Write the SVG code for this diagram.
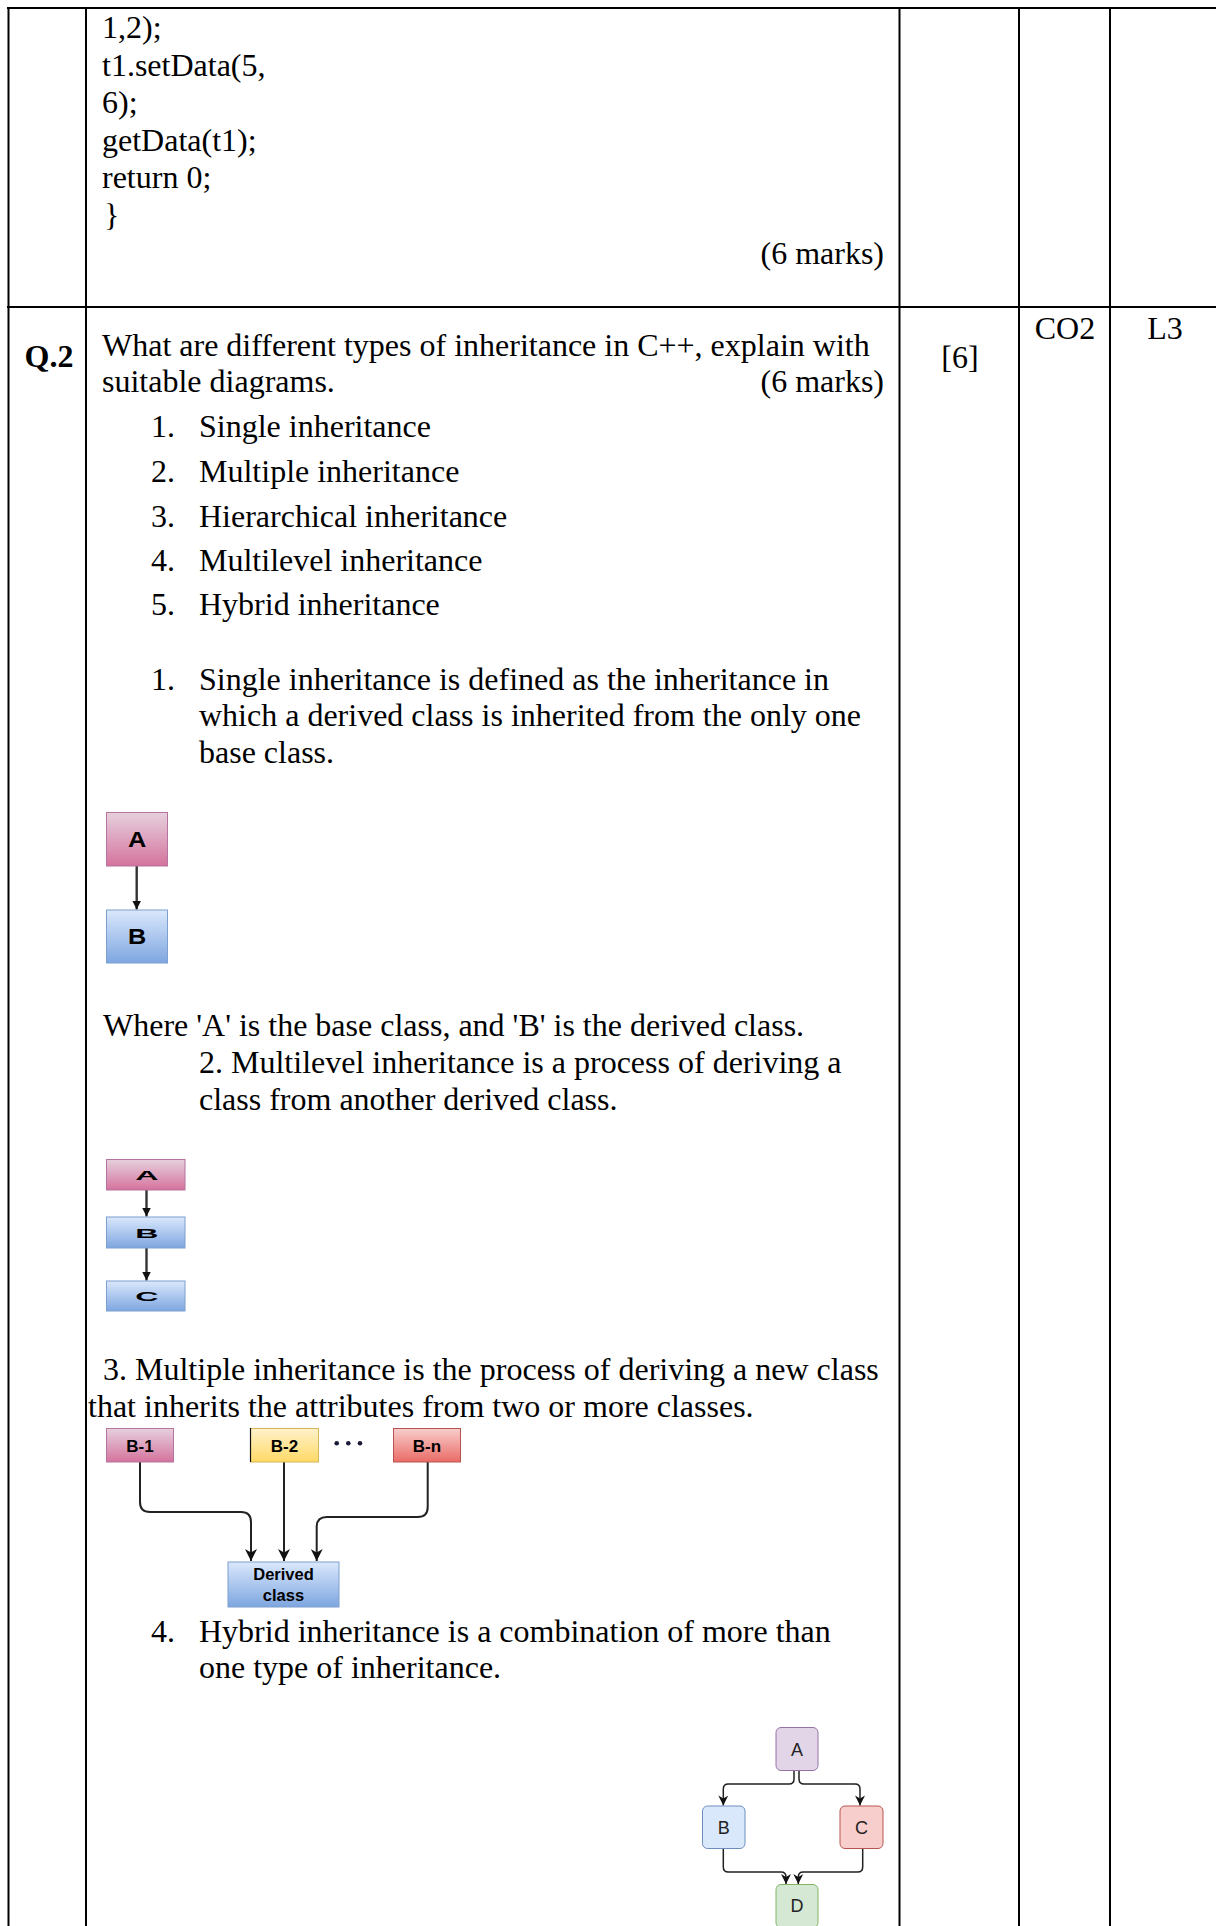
<svg xmlns="http://www.w3.org/2000/svg" width="1216" height="1926" viewBox="0 0 1216 1926">
<style>
.t{font-family:"Liberation Serif","Times New Roman",serif;font-size:32px;fill:#000}
.b{font-weight:bold}
.grid{stroke:#000;stroke-width:2;fill:none}
.lbl{font-family:"Liberation Sans",Arial,sans-serif;font-weight:bold;fill:#000;text-anchor:middle}
.hl{font-family:"Liberation Sans",Arial,sans-serif;font-size:18px;fill:#222;text-anchor:middle}
.e{fill:none;stroke:#222;stroke-width:2}
.es{fill:none;stroke:#333;stroke-width:2.4}
.eh{fill:none;stroke:#222;stroke-width:1.5}
</style>
<defs>
<linearGradient id="gPink" x1="0" y1="0" x2="0" y2="1"><stop offset="0" stop-color="#e6d0de"/><stop offset="1" stop-color="#d5739d"/></linearGradient>
<linearGradient id="gBlue" x1="0" y1="0" x2="0" y2="1"><stop offset="0" stop-color="#dae8fc"/><stop offset="1" stop-color="#7ea6e0"/></linearGradient>
<linearGradient id="gYel" x1="0" y1="0" x2="0" y2="1"><stop offset="0" stop-color="#fff2cc"/><stop offset="1" stop-color="#ffd966"/></linearGradient>
<linearGradient id="gRed" x1="0" y1="0" x2="0" y2="1"><stop offset="0" stop-color="#f8cecc"/><stop offset="1" stop-color="#ea6b66"/></linearGradient>
<marker id="arr" viewBox="0 0 10 10" refX="10" refY="5" markerWidth="14" markerHeight="12" orient="auto" markerUnits="userSpaceOnUse">
<path d="M0,0 L10,5 L0,10 L3,5 z" fill="#111"/>
</marker>
<marker id="arrH" viewBox="0 0 10 10" refX="10" refY="5" markerWidth="11" markerHeight="10" orient="auto" markerUnits="userSpaceOnUse">
<path d="M0,0 L10,5 L0,10 L3,5 z" fill="#111"/>
</marker>
<marker id="arrS" viewBox="0 0 10 10" refX="10" refY="5" markerWidth="9" markerHeight="11" orient="auto" markerUnits="userSpaceOnUse">
<path d="M0,0 L10,5 L0,10 z" fill="#111"/>
</marker>
</defs>

<g id="table">
<line class="grid" x1="7" y1="8" x2="1216" y2="8"/>
<line class="grid" x1="7" y1="307" x2="1216" y2="307"/>
<line class="grid" x1="8.5" y1="7" x2="8.5" y2="1926"/>
<line class="grid" x1="86" y1="7" x2="86" y2="1926"/>
<line class="grid" x1="899.5" y1="7" x2="899.5" y2="1926"/>
<line class="grid" x1="1019" y1="7" x2="1019" y2="1926"/>
<line class="grid" x1="1110" y1="7" x2="1110" y2="1926"/>
</g>

<g id="text">
<text class="t" x="102" y="38">1,2);</text>
<text class="t" x="102" y="75.5">t1.setData(5,</text>
<text class="t" x="102" y="113">6);</text>
<text class="t" x="102" y="150.5">getData(t1);</text>
<text class="t" x="102" y="188">return 0;</text>
<text class="t" x="104" y="226">}</text>
<text class="t" x="884" y="264" text-anchor="end">(6 marks)</text>

<text class="t b" x="24.5" y="367">Q.2</text>
<text class="t" x="102" y="355.5">What are different types of inheritance in C++, explain with</text>
<text class="t" x="102" y="391.5">suitable diagrams.</text>
<text class="t" x="884" y="391.5" text-anchor="end">(6 marks)</text>
<text class="t" x="960" y="368" text-anchor="middle">[6]</text>
<text class="t" x="1065" y="339" text-anchor="middle">CO2</text>
<text class="t" x="1165" y="339" text-anchor="middle">L3</text>

<text class="t" x="151" y="436.7">1.</text><text class="t" x="199" y="436.7">Single inheritance</text>
<text class="t" x="151" y="481.7">2.</text><text class="t" x="199" y="481.7">Multiple inheritance</text>
<text class="t" x="151" y="526.7">3.</text><text class="t" x="199" y="526.7">Hierarchical inheritance</text>
<text class="t" x="151" y="571">4.</text><text class="t" x="199" y="571">Multilevel inheritance</text>
<text class="t" x="151" y="615">5.</text><text class="t" x="199" y="615">Hybrid inheritance</text>

<text class="t" x="151" y="690">1.</text><text class="t" x="199" y="690">Single inheritance is defined as the inheritance in</text>
<text class="t" x="199" y="726">which a derived class is inherited from the only one</text>
<text class="t" x="199" y="762.5">base class.</text>

<text class="t" x="103" y="1036">Where 'A' is the base class, and 'B' is the derived class.</text>
<text class="t" x="199" y="1073">2. Multilevel inheritance is a process of deriving a</text>
<text class="t" x="199" y="1110">class from another derived class.</text>

<text class="t" x="103" y="1380">3. Multiple inheritance is the process of deriving a new class</text>
<text class="t" x="88" y="1417">that inherits the attributes from two or more classes.</text>

<text class="t" x="151" y="1642">4.</text><text class="t" x="199" y="1642">Hybrid inheritance is a combination of more than</text>
<text class="t" x="199" y="1678">one type of inheritance.</text>
</g>

<g id="connectors">
<line class="es" x1="136.7" y1="866" x2="136.7" y2="909.5" marker-end="url(#arrS)"/>
<line class="es" x1="146.5" y1="1190" x2="146.5" y2="1216.5" marker-end="url(#arrS)"/>
<line class="es" x1="146.5" y1="1248" x2="146.5" y2="1280.5" marker-end="url(#arrS)"/>
<path class="e" d="M140,1462 V1502 Q140,1512 150,1512 H241 Q251,1512 251,1522 V1561" marker-end="url(#arr)"/>
<path class="e" d="M284,1462 V1561" marker-end="url(#arr)"/>
<path class="e" d="M427.7,1462 V1507 Q427.7,1517 417.7,1517 H326.7 Q316.7,1517 316.7,1527 V1561" marker-end="url(#arr)"/>
<path class="eh" d="M794,1771 V1779 Q794,1784 789,1784 H728.3 Q723.3,1784 723.3,1789 V1805.5" marker-end="url(#arrH)"/>
<path class="eh" d="M799,1771 V1779 Q799,1784 804,1784 H855 Q860,1784 860,1789 V1805.5" marker-end="url(#arrH)"/>
<path class="eh" d="M723.3,1848.5 V1867 Q723.3,1872 728.3,1872 H781 Q786,1872 786,1877 V1884" marker-end="url(#arrH)"/>
<path class="eh" d="M862.7,1848.5 V1867 Q862.7,1872 857.7,1872 H803.3 Q798.3,1872 798.3,1877 V1884" marker-end="url(#arrH)"/>
</g>

<g id="single-A"><rect x="106.5" y="812.5" width="61" height="53.5" fill="url(#gPink)" stroke="#b5739d"/><text class="lbl" font-size="22" transform="translate(137,847) scale(1.15,1)">A</text></g>
<g id="single-B"><rect x="106.5" y="910" width="61" height="53" fill="url(#gBlue)" stroke="#7d9fcf"/><text class="lbl" font-size="22" transform="translate(137,944) scale(1.15,1)">B</text></g>

<g id="ml-A"><rect x="106.5" y="1159.5" width="78.5" height="30.5" fill="url(#gPink)" stroke="#b5739d"/><text class="lbl" font-size="14" transform="translate(147,1179.5) scale(2.3,0.85)">A</text></g>
<g id="ml-B"><rect x="106.5" y="1217" width="78.5" height="31" fill="url(#gBlue)" stroke="#7d9fcf"/><text class="lbl" font-size="14" transform="translate(147,1237.5) scale(2.3,0.85)">B</text></g>
<g id="ml-C"><rect x="106.5" y="1281" width="78.5" height="30" fill="url(#gBlue)" stroke="#7d9fcf"/><text class="lbl" font-size="14" transform="translate(147,1300.5) scale(2.3,0.85)">C</text></g>

<g id="mi-B1"><rect x="106.5" y="1428.5" width="67" height="33.5" fill="url(#gPink)" stroke="#b5739d"/><text class="lbl" x="140" y="1451.5" font-size="17">B-1</text></g>
<g id="mi-B2"><rect x="250.5" y="1428.5" width="68" height="33.5" fill="url(#gYel)" stroke="#d6b656"/><line x1="250.5" y1="1428" x2="250.5" y2="1462" stroke="#111" stroke-width="1.2"/><text class="lbl" x="284.5" y="1451.5" font-size="17">B-2</text></g>
<g id="mi-dots" fill="#1a1a3a"><circle cx="336.7" cy="1443.3" r="2.3"/><circle cx="348.3" cy="1443.3" r="2.3"/><circle cx="360" cy="1443.3" r="2.3"/></g>
<g id="mi-Bn"><rect x="393.5" y="1428.5" width="67" height="33.5" fill="url(#gRed)" stroke="#b85450"/><text class="lbl" x="427" y="1451.5" font-size="17">B-n</text></g>
<g id="mi-D"><rect x="228" y="1562" width="111" height="45" fill="url(#gBlue)" stroke="#7d9fcf"/><text class="lbl" x="283.5" y="1580" font-size="16.5">Derived</text><text class="lbl" x="283.5" y="1600.5" font-size="16.5">class</text></g>

<g id="hy-A"><rect x="776" y="1727.5" width="42" height="43" rx="5" fill="#e1d5e7" stroke="#9673a6"/><text class="hl" x="797" y="1755.5">A</text></g>
<g id="hy-B"><rect x="702.5" y="1806" width="42.5" height="42.5" rx="5" fill="#dae8fc" stroke="#6c8ebf"/><text class="hl" x="723.7" y="1833.5">B</text></g>
<g id="hy-C"><rect x="840" y="1806" width="43" height="42.5" rx="5" fill="#f8cecc" stroke="#b85450"/><text class="hl" x="861.5" y="1833.5">C</text></g>
<g id="hy-D"><rect x="776" y="1884.5" width="42" height="43" rx="5" fill="#d5e8d4" stroke="#82b366"/><text class="hl" x="797" y="1912">D</text></g>
</svg>
